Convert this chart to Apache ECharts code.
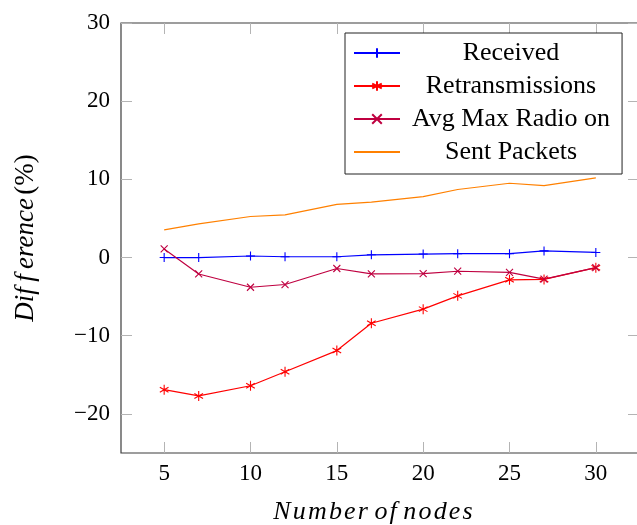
<!DOCTYPE html>
<html>
<head>
<meta charset="utf-8">
<script src="https://cdn.jsdelivr.net/npm/echarts@6/dist/echarts.min.js"></script>
<style>
  html, body { margin: 0; padding: 0; background: #fff; }
  #chart { width: 637px; height: 525px; }
</style>
</head>
<body>
<div id="chart"></div>
<script>
// Number of nodes in the network
const nodes = [5, 7, 10, 12, 15, 17, 20, 22, 25, 27, 30];

// Difference (%) per metric
const received        = [0.0, 0.0, 0.2, 0.1, 0.1, 0.35, 0.45, 0.5, 0.5, 0.85, 0.65];
const retransmissions = [-16.9, -17.7, -16.4, -14.6, -11.9, -8.4, -6.6, -4.9, -2.85, -2.8, -1.3];
const avgMaxRadioOn   = [1.1, -2.1, -3.8, -3.45, -1.4, -2.1, -2.05, -1.75, -1.9, -2.75, -1.3];
const sentPackets     = [3.55, 4.3, 5.25, 5.45, 6.8, 7.1, 7.8, 8.7, 9.5, 9.2, 10.2];

const seriesNames = ['Received', 'Retransmissions', 'Avg Max Radio on', 'Sent Packets'];

// Tick positions
const xTicks = [5, 10, 15, 20, 25, 30];
const yTicks = [-20, -10, 0, 10, 20, 30];

const pairs = vals => nodes.map((n, i) => [n, vals[i]]);

const SERIF = '"Liberation Serif", "DejaVu Serif", serif';
const TICK_COLOR = '#b4b4b4';
const FRAME_COLOR = '#3c3c3c';
const HS = '\u200A'; // hair space, widens the italic math-style titles

// Stroked mark shapes
const PLUS = 'path://M0,5L10,5M5,0L5,10';
const CROSS = 'path://M0,0L10,10M0,10L10,0';
const ASTERISK = 'path://M5,0L5,10M0.67,2.5L9.33,7.5M0.67,7.5L9.33,2.5';

function lineSeries(name, vals, color, symbol, size) {
  return {
    name: name,
    type: 'line',
    data: pairs(vals),
    xAxisIndex: 0,
    yAxisIndex: 0,
    symbol: symbol,
    symbolSize: size,
    symbolKeepAspect: true,
    lineStyle: { color: color, width: 1.2 },
    itemStyle: { color: color, borderColor: color, borderWidth: 1.1 },
    emphasis: { disabled: true },
    z: 3
  };
}

const spaced = s => s.split(' ').map(w => w.split('').join(HS)).join(' ');
const minusFmt = v => (v < 0 ? '\u2212' + Math.abs(v) : String(v));

const chart = echarts.init(document.getElementById('chart'), null, { renderer: 'canvas' });

const baseX = {
  type: 'value', min: 2.5, max: 32.5,
  splitLine: { show: false },
  axisLine: { show: false, onZero: false },
  axisTick: { show: true, inside: true, length: 11, customValues: xTicks,
              lineStyle: { color: TICK_COLOR, width: 1 } }
};
const baseY = {
  type: 'value', min: -25, max: 30,
  splitLine: { show: false },
  axisLine: { show: false, onZero: false },
  axisTick: { show: true, inside: true, length: 11, customValues: yTicks,
              lineStyle: { color: TICK_COLOR, width: 1 } }
};

chart.setOption({
  animation: false,
  backgroundColor: '#fff',
  grid: {
    left: 121, top: 23, right: -2, bottom: 72,
    outerBoundsMode: 'none',
    containLabel: false,
    show: true, borderColor: FRAME_COLOR, borderWidth: 1.2, backgroundColor: 'transparent'
  },
  xAxis: [
    Object.assign({}, baseX, {
      position: 'bottom',
      axisLabel: { show: true, customValues: xTicks, margin: 9,
                   fontFamily: SERIF, fontSize: 23, color: '#000' },
      name: spaced('Number of nodes'), nameLocation: 'middle', nameGap: 46,
      nameTextStyle: { fontFamily: SERIF, fontStyle: 'italic', fontSize: 26, color: '#000',
                       padding: [0, 14, 0, 0] }
    }),
    Object.assign({}, baseX, { position: 'top', axisLabel: { show: false } })
  ],
  yAxis: [
    Object.assign({}, baseY, {
      position: 'left',
      axisLabel: { show: true, customValues: yTicks, margin: 11, formatter: minusFmt,
                   fontFamily: SERIF, fontSize: 23, color: '#000' },
      name: '{i|Dif\u2009f\u2009erence} {n|(%)}', nameLocation: 'middle', nameGap: 82,
      nameRotate: 90,
      nameTextStyle: {
        color: '#000',
        rich: {
          i: { fontFamily: SERIF, fontStyle: 'italic', fontSize: 27, color: '#000' },
          n: { fontFamily: SERIF, fontSize: 27, color: '#000' }
        }
      }
    }),
    Object.assign({}, baseY, { position: 'right', axisLabel: { show: false } })
  ],
  legend: {
    data: [
      seriesNames[0], seriesNames[1], seriesNames[2],
      { name: seriesNames[3], itemStyle: { color: 'rgba(0,0,0,0)', borderColor: 'rgba(0,0,0,0)', borderWidth: 0 } }
    ],
    orient: 'vertical',
    left: 345, top: 33,
    padding: [7, 12, 9, 8],
    itemGap: 7,
    itemWidth: 46,
    itemHeight: 12,
    backgroundColor: '#fff',
    borderColor: '#222',
    borderWidth: 1,
    selectedMode: false,
    formatter: '{a|{name}}',
    textStyle: {
      rich: {
        a: { width: 212, align: 'center', fontFamily: SERIF, fontSize: 26, color: '#000' }
      }
    }
  },
  series: [
    lineSeries(seriesNames[0], received, '#0000ff', PLUS, 9),
    lineSeries(seriesNames[1], retransmissions, '#ff0000', ASTERISK, 10),
    lineSeries(seriesNames[2], avgMaxRadioOn, '#bf0040', CROSS, 7),
    lineSeries(seriesNames[3], sentPackets, '#ff8000', 'none', 0)
  ]
});
</script>
</body>
</html>
